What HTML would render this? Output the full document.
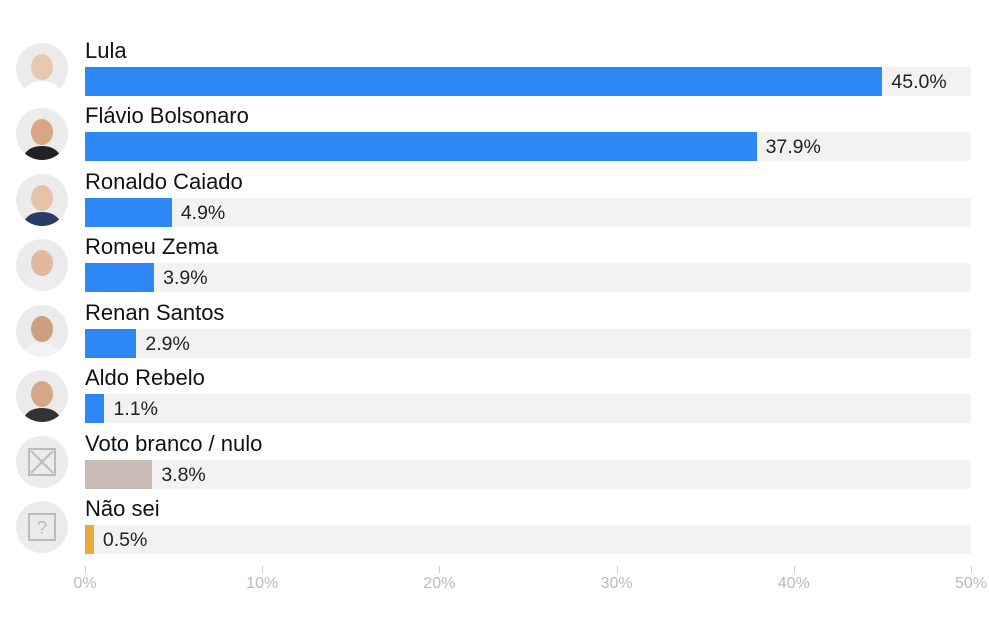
<!DOCTYPE html><html><head><meta charset="utf-8"><style>
body{margin:0;width:989px;height:619px;background:#fff;font-family:"Liberation Sans",sans-serif;position:relative;overflow:hidden}
.lab{position:absolute;left:85px;font-size:22px;color:#111;line-height:24px}
.track{position:absolute;left:85px;width:886px;height:29px;background:#f2f2f0}
.bar{position:absolute;left:0;top:0;height:29px}
.val{position:absolute;top:3px;font-size:19.5px;color:#222;line-height:25px}
.av{position:absolute;left:16px;width:52px;height:52px;border-radius:50%;background:#ebebeb;overflow:hidden}
.tick{position:absolute;top:566px;width:1px;height:7px;background:#ccc}
.tl{position:absolute;top:575px;width:60px;margin-left:-30px;text-align:center;font-size:16px;color:#bbb}
</style></head><body>
<div id="c"></div>
<script>
var d=[["Lula",45.0,"#2d87f5","p","#e8c9b0","#fff"],["Flávio Bolsonaro",37.9,"#2d87f5","p","#d9a585","#222"],["Ronaldo Caiado",4.9,"#2d87f5","p","#e6c2a8","#2a3b66"],["Romeu Zema",3.9,"#2d87f5","p","#e0b89c","#eee"],["Renan Santos",2.9,"#2d87f5","p","#caa080","#f3f3f3"],["Aldo Rebelo",1.1,"#2d87f5","p","#d4a888","#333"],["Voto branco / nulo",3.8,"#c8bcb4","x"],["Não sei",0.5,"#e8ac3e","q"]];
var h="",s=17.72;
d.forEach(function(r,i){var t=67+i*65.43;
h+='<div class="lab" style="top:'+(t-28)+'px">'+r[0]+'</div>';
h+='<div class="track" style="top:'+t+'px"><div class="bar" style="width:'+(r[1]*s)+'px;background:'+r[2]+'"></div><div class="val" style="left:'+(r[1]*s+9)+'px">'+r[1].toFixed(1)+'%</div></div>';
var c='';
if(r[3]=="p"){c='<svg width="52" height="52"><ellipse cx="26" cy="24" rx="11" ry="13" fill="'+r[4]+'"/><path d="M6 52 Q10 38 26 38 Q42 38 46 52Z" fill="'+r[5]+'"/></svg>';}
else if(r[3]=="x"){c='<svg width="52" height="52"><rect x="13" y="13" width="26" height="26" fill="none" stroke="#bbb" stroke-width="2"/><path d="M15 15L37 37M37 15L15 37" stroke="#bbb" stroke-width="2"/></svg>';}
else{c='<svg width="52" height="52"><rect x="13" y="13" width="26" height="26" fill="none" stroke="#bbb" stroke-width="2"/><text x="26" y="33" text-anchor="middle" font-size="18" fill="#bbb" font-family="Liberation Sans">?</text></svg>';}
h+='<div class="av" style="top:'+(t-24)+'px">'+c+'</div>';});
for(var k=0;k<=5;k++){var x=85+k*10*s;h+='<div class="tick" style="left:'+x+'px"></div><div class="tl" style="left:'+x+'px">'+(k*10)+'%</div>';}
document.getElementById("c").innerHTML=h;
</script></body></html>
